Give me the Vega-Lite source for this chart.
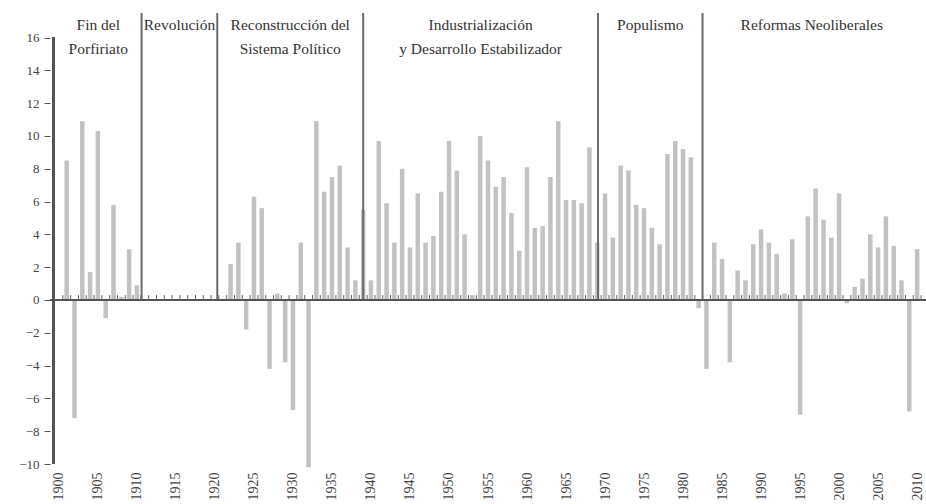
{
  "$schema": "https://vega.github.io/schema/vega-lite/v6.json",
  "width": 876,
  "height": 462,
  "autosize": "none",
  "padding": {"left": 50, "top": 2, "right": 0, "bottom": 40},
  "background": "white",
  "config": {"view": {"stroke": null}, "font": "Liberation Serif", "axis": {"labelOverlap": false}},
  "datasets": {
    "gdp": [
      {"year":1900,"g":null},{"year":1901,"g":8.5},{"year":1902,"g":-7.2},{"year":1903,"g":10.9},{"year":1904,"g":1.7},
      {"year":1905,"g":10.3},{"year":1906,"g":-1.1},{"year":1907,"g":5.8},{"year":1908,"g":0.2},{"year":1909,"g":3.1},
      {"year":1910,"g":0.9},{"year":1911,"g":null},{"year":1912,"g":null},{"year":1913,"g":null},{"year":1914,"g":null},
      {"year":1915,"g":null},{"year":1916,"g":null},{"year":1917,"g":null},{"year":1918,"g":null},{"year":1919,"g":null},
      {"year":1920,"g":null},{"year":1921,"g":null},{"year":1922,"g":2.2},{"year":1923,"g":3.5},{"year":1924,"g":-1.8},
      {"year":1925,"g":6.3},{"year":1926,"g":5.6},{"year":1927,"g":-4.2},{"year":1928,"g":0.4},{"year":1929,"g":-3.8},
      {"year":1930,"g":-6.7},{"year":1931,"g":3.5},{"year":1932,"g":-10.2},{"year":1933,"g":10.9},{"year":1934,"g":6.6},
      {"year":1935,"g":7.5},{"year":1936,"g":8.2},{"year":1937,"g":3.2},{"year":1938,"g":1.2},{"year":1939,"g":5.5},
      {"year":1940,"g":1.2},{"year":1941,"g":9.7},{"year":1942,"g":5.9},{"year":1943,"g":3.5},{"year":1944,"g":8.0},
      {"year":1945,"g":3.2},{"year":1946,"g":6.5},{"year":1947,"g":3.5},{"year":1948,"g":3.9},{"year":1949,"g":6.6},
      {"year":1950,"g":9.7},{"year":1951,"g":7.9},{"year":1952,"g":4.0},{"year":1953,"g":0.3},{"year":1954,"g":10.0},
      {"year":1955,"g":8.5},{"year":1956,"g":6.9},{"year":1957,"g":7.5},{"year":1958,"g":5.3},{"year":1959,"g":3.0},
      {"year":1960,"g":8.1},{"year":1961,"g":4.4},{"year":1962,"g":4.5},{"year":1963,"g":7.5},{"year":1964,"g":10.9},
      {"year":1965,"g":6.1},{"year":1966,"g":6.1},{"year":1967,"g":5.9},{"year":1968,"g":9.3},{"year":1969,"g":3.5},
      {"year":1970,"g":6.5},{"year":1971,"g":3.8},{"year":1972,"g":8.2},{"year":1973,"g":7.9},{"year":1974,"g":5.8},
      {"year":1975,"g":5.6},{"year":1976,"g":4.4},{"year":1977,"g":3.4},{"year":1978,"g":8.9},{"year":1979,"g":9.7},
      {"year":1980,"g":9.2},{"year":1981,"g":8.7},{"year":1982,"g":-0.5},{"year":1983,"g":-4.2},{"year":1984,"g":3.5},
      {"year":1985,"g":2.5},{"year":1986,"g":-3.8},{"year":1987,"g":1.8},{"year":1988,"g":1.2},{"year":1989,"g":3.4},
      {"year":1990,"g":4.3},{"year":1991,"g":3.5},{"year":1992,"g":2.8},{"year":1993,"g":0.4},{"year":1994,"g":3.7},
      {"year":1995,"g":-7.0},{"year":1996,"g":5.1},{"year":1997,"g":6.8},{"year":1998,"g":4.9},{"year":1999,"g":3.8},
      {"year":2000,"g":6.5},{"year":2001,"g":-0.2},{"year":2002,"g":0.8},{"year":2003,"g":1.3},{"year":2004,"g":4.0},
      {"year":2005,"g":3.2},{"year":2006,"g":5.1},{"year":2007,"g":3.3},{"year":2008,"g":1.2},{"year":2009,"g":-6.8},
      {"year":2010,"g":3.1}
    ],
    "periods": [
      {"label":"Fin del\nPorfiriato","start":1899.5,"end":1910.6},
      {"label":"Revolución","start":1910.6,"end":1920.3},
      {"label":"Reconstrucción del\nSistema Político","start":1920.3,"end":1939.0},
      {"label":"Industrialización\ny Desarrollo Estabilizador","start":1939.0,"end":1969.1},
      {"label":"Populismo","start":1969.1,"end":1982.5},
      {"label":"Reformas Neoliberales","start":1982.5,"end":2010.5}
    ]
  },
  "data": {"name": "gdp"},
  "layer": [
    {
      "transform": [{"filter": "isValid(datum.g)"}],
      "mark": {"type": "bar", "size": 4.5, "color": "#c2c2c2"},
      "encoding": {
        "x": {
          "field": "year", "type": "quantitative",
          "scale": {"domain": [1899.5, 2010.5], "nice": false, "zero": false},
          "axis": {
            "title": null, "grid": false, "domain": false, "ticks": false,
            "values": [1900,1905,1910,1915,1920,1925,1930,1935,1940,1945,1950,1955,1960,1965,1970,1975,1980,1985,1990,1995,2000,2005,2010],
            "tickCount": 200,
            "format": "d", "labelAngle": 270, "labelAlign": "right", "labelBaseline": "middle",
            "labelPadding": 8, "labelFontSize": 14, "labelColor": "#444", "labelFont": "Liberation Serif",
            "labelOverlap": false, "labelFlush": false, "labelBound": false
          }
        },
        "y": {
          "field": "g", "type": "quantitative",
          "scale": {"domain": [-10, 18.17], "nice": false},
          "axis": {
            "title": null, "grid": false, "domain": false,
            "values": [-10,-8,-6,-4,-2,0,2,4,6,8,10,12,14,16],
            "tickCount": 100, "format": "d",
            "tickSize": 6, "tickColor": "#555", "labelPadding": 5, "labelOverlap": false,
            "labelFontSize": 13, "labelColor": "#444", "labelFont": "Liberation Serif"
          }
        }
      }
    },
    {
      "data": {"name": "periods"},
      "transform": [{"filter": "datum.start > 1900"}],
      "mark": {"type": "rule", "color": "#6a6a6a", "strokeWidth": 2},
      "encoding": {
        "x": {"field": "start", "type": "quantitative"},
        "y": {"datum": 0},
        "y2": {"datum": 17.5}
      }
    },
    {
      "mark": {"type": "rule", "color": "#555", "strokeWidth": 1.5},
      "encoding": {"y": {"datum": 0}}
    },
    {
      "mark": {"type": "rule", "color": "#666", "strokeWidth": 1},
      "encoding": {
        "x": {"field": "year", "type": "quantitative"},
        "xOffset": {"value": 3.95},
        "y": {"datum": 0},
        "y2": {"datum": 0.3}
      }
    },
    {
      "mark": {"type": "rule", "color": "#555", "strokeWidth": 1.5},
      "encoding": {
        "x": {"datum": 1899.3},
        "y": {"datum": -10},
        "y2": {"datum": 16}
      }
    },
    {
      "data": {"name": "periods"},
      "transform": [{"calculate": "(datum.start + datum.end) / 2", "as": "mid"}],
      "mark": {"type": "text", "font": "Liberation Serif", "fontSize": 15.5, "color": "#333", "baseline": "top", "align": "center", "lineBreak": "\n", "lineHeight": 24},
      "encoding": {
        "x": {"field": "mid", "type": "quantitative"},
        "y": {"datum": 17.2},
        "text": {"field": "label"}
      }
    }
  ]
}
